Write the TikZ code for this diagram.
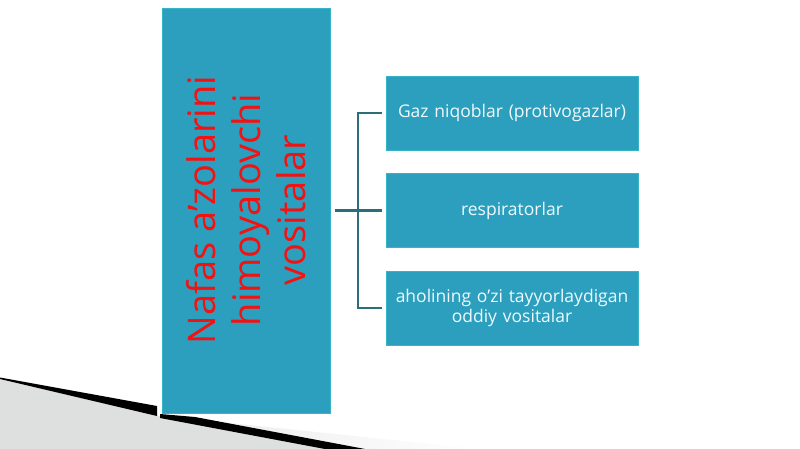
\documentclass[tikz,border=0pt]{standalone}
\usepackage{fontspec}
\setmainfont{Open Sans}
\usetikzlibrary{positioning}
\definecolor{boxfill}{HTML}{2C9FBE}
\definecolor{boxedge}{HTML}{34B4C6}
\definecolor{linecol}{HTML}{2A6E79}
\definecolor{titlered}{HTML}{F21212}
\definecolor{txtwhite}{HTML}{EEFAFC}
\definecolor{floorgray}{HTML}{DEDFDF}
\begin{document}
\begin{tikzpicture}[x=1pt,y=-1pt,
  bigbox/.style={draw=boxedge,line width=0.8pt,fill=boxfill,minimum width=168pt,minimum height=405pt,inner sep=0pt},
  itembox/.style={draw=boxedge,line width=0.6pt,fill=boxfill,minimum width=252pt,minimum height=74pt,inner sep=2pt,text width=248pt,align=center,text=txtwhite,font=\fontsize{17.5}{20}\selectfont},
  conn/.style={draw=linecol,line width=2.3pt},
  titletext/.style={rotate=90,text=titlered,align=center,font=\fontsize{38}{45}\selectfont}]
\useasboundingbox (0,0) rectangle (800,449);
\fill[white] (0,0) rectangle (800,449);
% floor decoration
\shade[left color=floorgray,right color=white] (0,379) -- (157,416) -- (200,420) -- (480,449) -- (0,449) -- cycle;
\fill[floorgray] (0,379) -- (157,416) -- (330,449) -- (0,449) -- cycle;
\fill[black] (0,377.5) -- (157,406) -- (157,416) -- (0,379) -- cycle;
\fill[black] (160,414) -- (195,417) -- (365,449) -- (325,449) -- (160,418) -- cycle;
% main box
\node[bigbox] (main) at (246,210.5) {};
\node[titletext] (title) at (246,210) {Nafas a’zolarini\\himoyalovchi\\vositalar};
% item boxes
\node[itembox] (b1) at (512,113) {Gaz niqoblar (protivogazlar)};
\node[itembox] (b2) at (512,210.5) {respiratorlar};
\node[itembox] (b3) at (512,308) {aholining o’zi tayyorlaydigan\\oddiy vositalar};
% connectors
\coordinate (hub) at (358,210.5);
\coordinate (top) at (358,113);
\coordinate (bot) at (358,308);
\draw[conn] ([xshift=5pt]main.east) -- ([xshift=-4pt]b2.west);
\draw[conn,line cap=rect] (top) -- (bot);
\draw[conn] (top) -- ([xshift=-4pt]b1.west);
\draw[conn] (bot) -- ([xshift=-4pt]b3.west);
\end{tikzpicture}
\end{document}
